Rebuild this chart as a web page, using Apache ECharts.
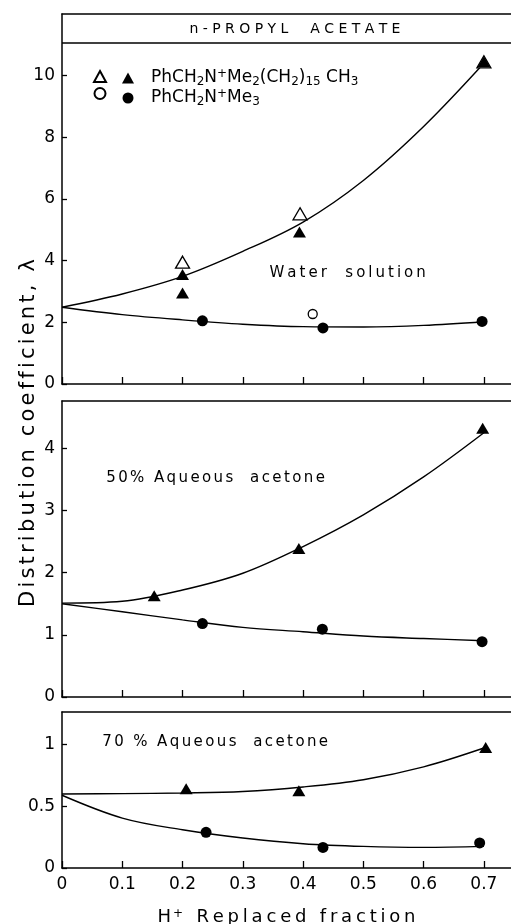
<!DOCTYPE html>
<html>
<head>
<meta charset="utf-8">
<script src="https://cdn.jsdelivr.net/npm/echarts@6/dist/echarts.min.js"></script>
<style>html,body{margin:0;padding:0;background:#fff;}#c{width:511px;height:924px;}</style>
</head>
<body>
<div id="c"></div>
<script>
// ---- data ----
const curveX = [0, 0.1, 0.2, 0.3, 0.4, 0.5, 0.6, 0.7];
// Water solution
const waterTriX = [0.2, 0.2, 0.394, 0.70];
const waterTriY = [3.55, 2.95, 4.93, 10.45];
const waterOpenTriX = [0.2, 0.395, 0.70];
const waterOpenTriY = [3.95, 5.52, 10.45];
const waterCircX = [0.233, 0.433, 0.697];
const waterCircY = [2.05, 1.82, 2.03];
const waterOpenCircX = [0.416];
const waterOpenCircY = [2.27];
const waterUpper = [2.49, 2.92, 3.49, 4.3, 5.25, 6.6, 8.35, 10.4];
const waterLower = [2.49, 2.25, 2.08, 1.94, 1.86, 1.85, 1.9, 2.02];
// 50% aqueous acetone
const ac50TriX = [0.153, 0.393, 0.698];
const ac50TriY = [1.63, 2.39, 4.32];
const ac50CircX = [0.233, 0.432, 0.697];
const ac50CircY = [1.18, 1.09, 0.89];
const ac50Upper = [1.51, 1.54, 1.72, 1.99, 2.42, 2.93, 3.54, 4.25];
const ac50Lower = [1.5, 1.37, 1.24, 1.12, 1.05, 0.98, 0.94, 0.905];
// 70% aqueous acetone
const ac70TriX = [0.206, 0.393, 0.703];
const ac70TriY = [0.643, 0.627, 0.978];
const ac70CircX = [0.239, 0.433, 0.693];
const ac70CircY = [0.289, 0.167, 0.203];
const ac70Upper = [0.6, 0.603, 0.608, 0.62, 0.657, 0.716, 0.82, 0.973];
const ac70Lower = [0.59, 0.405, 0.31, 0.243, 0.197, 0.175, 0.167, 0.175];
// axes
const xTicks = ['0', '0.1', '0.2', '0.3', '0.4', '0.5', '0.6', '0.7'];
const xMax = 0.745;
const yMax = [12, 4.76, 1.265];
const yInterval = [2, 1, 0.5];
const titleBandY = 11.07;

// ---- build ----
const FONT = 'DejaVu Sans';
const pairs = (xs, ys) => xs.map((x, i) => [x, ys[i]]);
const spaced = (s, key) => s.split('').map(c => '{' + key + '|' + c + '}').join('');
const tickVals = xTicks.map(Number);

const grids = [
  {left: 62, right: 0, top: 14, height: 370},
  {left: 62, right: 0, top: 401, height: 296},
  {left: 62, right: 0, top: 712, height: 156}
].map(g => Object.assign(g, {outerBoundsMode: 'none', containLabel: false}));

const axisNameRich = {
  s: {fontFamily: FONT, fontSize: 18, color: '#000', padding: [0, 1.9]},
  p: {fontFamily: FONT, fontSize: 12, lineHeight: 10, verticalAlign: 'top', color: '#000', padding: [0, 2, 0, 0]}
};
const xAxes = [0, 1, 2].map(i => ({
  type: 'value', gridIndex: i, min: 0, max: xMax, position: 'bottom',
  axisLine: {show: true, onZero: false, lineStyle: {color: '#000', width: 1.5}},
  axisTick: {show: true, inside: true, length: 7, customValues: tickVals, lineStyle: {color: '#000', width: 1.3}},
  splitLine: {show: false},
  axisLabel: {show: i === 2, customValues: tickVals, color: '#000', fontFamily: FONT, fontSize: 17, margin: 8,
    formatter: v => xTicks[tickVals.indexOf(v)] ?? String(v)},
  name: i === 2 ? '{s|H}{p|+}' + spaced(' Replaced fraction', 's') : '',
  nameLocation: 'middle', nameGap: 40,
  nameTextStyle: {color: '#000', fontFamily: FONT, fontSize: 18, rich: axisNameRich}
})).concat([0, 1, 2].map(i => ({
  type: 'value', gridIndex: i, min: 0, max: xMax, position: 'top',
  axisLine: {show: true, onZero: false, lineStyle: {color: '#000', width: 1.5}},
  axisTick: {show: false}, axisLabel: {show: false}, splitLine: {show: false}
})));

const yAxes = [0, 1, 2].map(i => ({
  type: 'value', gridIndex: i, min: 0, max: yMax[i], interval: yInterval[i],
  axisLine: {show: true, lineStyle: {color: '#000', width: 1.5}},
  axisTick: {show: true, inside: true, length: 5, lineStyle: {color: '#000', width: 1.3}},
  splitLine: {show: false},
  axisLabel: {showMaxLabel: false, color: '#000', fontFamily: FONT, fontSize: 17, margin: 7}
}));

const lineS = (name, g, ys) => ({
  name, type: 'line', xAxisIndex: g, yAxisIndex: g, data: pairs(curveX, ys),
  smooth: 0.35, showSymbol: false, symbol: 'none', silent: true, z: 2,
  lineStyle: {color: '#000', width: 1.4}
});
const triSize = [13, 11];
const filled = {color: '#000', opacity: 1};
const open = {color: '#fff', borderColor: '#000', borderWidth: 1.3, opacity: 1};
const scat = (name, g, xs, ys, symbol, size, style, z) => ({
  name, type: 'scatter', xAxisIndex: g, yAxisIndex: g, data: pairs(xs, ys),
  symbol, symbolSize: size, itemStyle: style, z, silent: true
});

const series = [
  Object.assign(lineS('curve', 0, waterUpper), {
    markLine: {silent: true, symbol: 'none', label: {show: false},
      lineStyle: {color: '#000', width: 1.5, type: 'solid'}, data: [{yAxis: titleBandY}]}
  }),
  lineS('curve', 0, waterLower),
  lineS('curve', 1, ac50Upper),
  lineS('curve', 1, ac50Lower),
  lineS('curve', 2, ac70Upper),
  lineS('curve', 2, ac70Lower),
  scat('openTri', 0, waterOpenTriX, waterOpenTriY, 'triangle', [14, 12], open, 3),
  scat('openCirc', 0, waterOpenCircX, waterOpenCircY, 'circle', 9, open, 3),
  scat('tri', 0, waterTriX, waterTriY, 'triangle', triSize, filled, 4),
  scat('circ', 0, waterCircX, waterCircY, 'circle', 11, filled, 4),
  scat('tri', 1, ac50TriX, ac50TriY, 'triangle', triSize, filled, 4),
  scat('circ', 1, ac50CircX, ac50CircY, 'circle', 11, filled, 4),
  scat('tri', 2, ac70TriX, ac70TriY, 'triangle', triSize, filled, 4),
  scat('circ', 2, ac70CircX, ac70CircY, 'circle', 11, filled, 4)
];

const richF = {
  a: {fontFamily: FONT, fontSize: 17, lineHeight: 20, color: '#000'},
  b: {fontFamily: FONT, fontSize: 12, lineHeight: 11, verticalAlign: 'bottom', color: '#000'},
  p: {fontFamily: FONT, fontSize: 12, lineHeight: 11, verticalAlign: 'top', color: '#000'}
};
const legendNames = {
  tri: '{a|PhCH}{b|2}{a|N}{p|+}{a|Me}{b|2}{a|(CH}{b|2}{a|)}{b|15}{a| CH}{b|3}',
  circ: '{a|PhCH}{b|2}{a|N}{p|+}{a|Me}{b|3}'
};
const annRich = (size, pad) => ({s: {fontFamily: FONT, fontSize: size, color: '#000', padding: [0, pad]}});
const ann = (x, y, text, size, pad, align) => ({
  type: 'text', x, y,
  style: {text: spaced(text, 's'), rich: annRich(size, pad), align: align || 'left', verticalAlign: 'middle'}
});

const option = {
  animation: false,
  backgroundColor: '#fff',
  grid: grids, xAxis: xAxes, yAxis: yAxes, series,
  legend: [
    {left: 88, top: 63, orient: 'vertical', itemWidth: 12, itemHeight: 11, itemGap: 0,
     selectedMode: false, data: [{name: 'openTri', icon: 'triangle'}, {name: 'openCirc', icon: 'circle'}],
     formatter: () => '{a|}', textStyle: {rich: richF}},
    {left: 117, top: 63, orient: 'vertical', itemWidth: 12, itemHeight: 11, itemGap: 0,
     selectedMode: false, data: [{name: 'tri', icon: 'triangle'}, {name: 'circ', icon: 'circle'}],
     formatter: n => legendNames[n], textStyle: {rich: richF, padding: [0, 0, 0, 12]}}
  ],
  graphic: [
    ann(295, 29, 'n-PROPYL  ACETATE', 14, 2.2, 'center'),
    ann(268, 273, 'Water  solution', 15, 1.5),
    ann(105, 478, '50% Aqueous  acetone', 15, 1.2),
    ann(101, 742, '70 % Aqueous  acetone', 15, 1.2),
    Object.assign(ann(29, 433, 'Distribution coefficient, λ', 21, 1.6, 'center'), {rotation: Math.PI / 2})
  ]
};
echarts.init(document.getElementById('c'), null, {renderer: 'canvas'}).setOption(option);
</script>
</body>
</html>
